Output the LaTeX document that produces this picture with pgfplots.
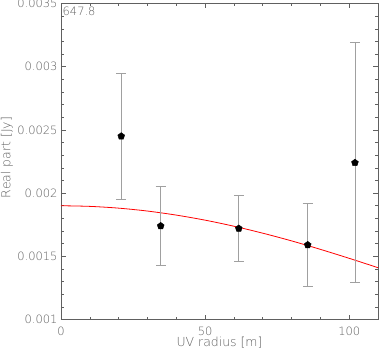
\documentclass[border=0pt]{standalone}
\usepackage{pgfplots}
\pgfplotsset{compat=1.18}
\usepackage{fontspec}
\setmainfont{DejaVu Sans ExtraLight}
\definecolor{txtgray}{HTML}{606060}
\definecolor{axgray}{HTML}{606060}
\definecolor{errgray}{HTML}{A0A0A0}
\begin{document}
\begin{tikzpicture}[x=1bp,y=1bp]
\begin{axis}[
    name=ax,
    scale only axis,
    width=317bp, height=316bp,
    xmin=0, xmax=110,
    ymin=0.001, ymax=0.0035,
    xtick={0,50,100},
    ytick={0.001,0.0015,0.002,0.0025,0.003,0.0035},
    minor x tick num=4,
    minor y tick num=4,
    scaled y ticks=false,
    tick align=inside,
    major tick length=5bp,
    minor tick length=3bp,
    tick style={axgray, line width=0.5pt},
    axis line style={axgray, line width=0.6pt},
    /pgf/number format/assume math mode=true,
    yticklabel style={/pgf/number format/fixed, /pgf/number format/precision=4,
        font=\fontsize{11.5}{12}\selectfont, text=txtgray},
    xticklabel style={font=\fontsize{11.5}{12}\selectfont, text=txtgray, yshift=-4bp},
    xlabel={UV radius [m]},
    ylabel={Real part [Jy]},
    xlabel style={font=\fontsize{12.5}{13}\selectfont, text=txtgray,
        at={(axis description cs:0.5,0)}, anchor=base, yshift=-27bp},
    ylabel style={font=\fontsize{12.5}{13}\selectfont, text=txtgray,
        at={(axis description cs:0,0.5)}, anchor=center, yshift=54bp, xshift=4bp},
    clip=true,
]
\addplot[red, line width=0.8pt, smooth] coordinates {
    (0,0.00190) (10,0.001895) (20,0.001881) (30,0.001858) (40,0.001826)
    (50,0.001786) (60,0.001738) (70,0.001683) (80,0.001622) (90,0.001555)
    (100,0.001484) (110,0.00141)
};
\addplot[only marks, mark=pentagon*, mark size=3.6bp, black,
    error bars/.cd, y dir=both, y explicit,
    error bar style={errgray, line width=0.7pt},
    error mark options={rotate=90, mark size=5bp, errgray, line width=0.7pt}]
    coordinates {
    (20.9,0.00245) +- (0,0.00050)
    (34.6,0.00174) +- (0,0.00031)
    (61.7,0.00172) +- (0,0.00026)
    (85.6,0.00159) +- (0,0.00033)
    (102.0,0.00224) +- (0,0.00095)
};
\node[anchor=north west, font=\fontsize{11.5}{12}\selectfont, text=txtgray, inner sep=0pt]
    at (rel axis cs:0,1) [xshift=1.5bp, yshift=-3bp] {647.8};
\end{axis}
\pgfresetboundingbox
\path (ax.south west) ++(-61bp,-30bp) coordinate (bl);
\path (ax.north east) ++(1bp,3.5bp) coordinate (tr);
\useasboundingbox (bl) rectangle (tr);
\end{tikzpicture}
\end{document}
